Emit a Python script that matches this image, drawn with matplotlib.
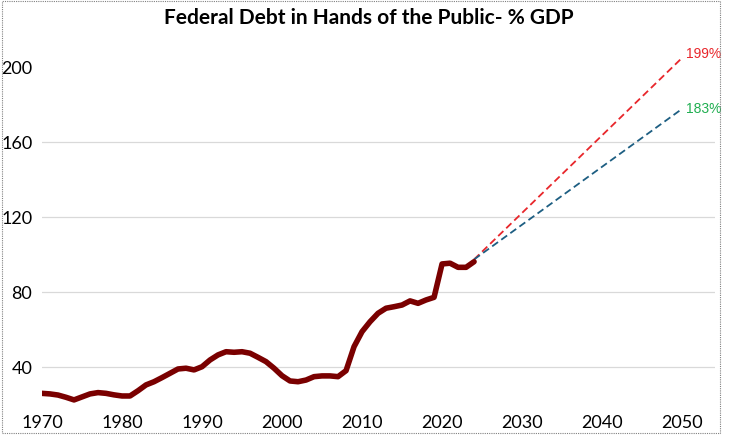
import matplotlib.pyplot as plt
from matplotlib.patches import Rectangle

# historical debt held by the public, % of GDP
years = list(range(1970, 2025))
debt = [26.1, 25.8, 25.2, 24.0, 22.6, 24.2, 25.8, 26.5, 26.1, 25.3,
        24.7, 24.7, 27.5, 30.6, 32.3, 34.5, 36.8, 39.1, 39.5, 38.6,
        40.3, 43.9, 46.6, 48.3, 48.0, 48.3, 47.5, 45.3, 43.0, 39.5,
        35.5, 32.7, 32.3, 33.2, 35.0, 35.4, 35.4, 35.0, 38.2, 51.0,
        59.0, 64.3, 68.8, 71.5, 72.3, 73.2, 75.4, 74.1, 75.9, 77.3,
        95.1, 95.5, 93.3, 93.3, 96.3]

# projections to 2050
proj_years = [2024, 2050]
proj_high = [97.5, 205.0]
proj_low = [97.5, 177.8]
proj_labels = ["199%", "183%"]

y_ticks = [40, 80, 120, 160, 200]
x_ticks = [1970, 1980, 1990, 2000, 2010, 2020, 2030, 2040, 2050]


def main():
    fig = plt.figure(figsize=(7.37, 4.37), dpi=100)
    ax = fig.add_axes([0.057, 0.0737, 0.913, 0.824])

    ax.plot(proj_years, proj_high, color="#e8262b", lw=1.3,
            dashes=(4, 2.2))
    ax.plot(proj_years, proj_low, color="#1d5e82", lw=1.3,
            dashes=(4, 2.2))
    ax.plot(years, debt, color="#7a0000", lw=4,
            solid_joinstyle="round", solid_capstyle="round")

    ax.annotate(proj_labels[0], (proj_years[1], proj_high[1]),
                xytext=(3, 3), textcoords="offset points",
                ha="left", va="center", color="#e8262b", fontsize=10,
                family="Liberation Sans")
    ax.annotate(proj_labels[1], (proj_years[1], proj_low[1]),
                xytext=(3, 0), textcoords="offset points",
                ha="left", va="center", color="#1fae50", fontsize=10,
                family="Liberation Sans")

    ax.set_xlim(1970, 2054.1)
    ax.set_ylim(20, 212)
    ax.set_xticks(x_ticks)
    ax.set_yticks(y_ticks)
    for t in y_ticks[:-1]:
        ax.axhline(t, color="#d9d9d9", lw=0.9, zorder=0)

    for s in ax.spines.values():
        s.set_visible(False)
    ax.tick_params(length=0, labelsize=13, pad=7)
    for lab in ax.get_xticklabels() + ax.get_yticklabels():
        lab.set_family("Lato")

    fig.text(0.5, 0.958, "Federal Debt in Hands of the Public- % GDP",
             ha="center", va="center", fontsize=15, fontweight="bold",
             family="Lato")

    fig.patches.append(Rectangle((0.003, 0.009), 0.974, 0.989,
                                 transform=fig.transFigure, fill=False,
                                 ec="#808080", lw=0.8, ls=(0, (1, 1))))

    fig.savefig("out.png", dpi=100)


if __name__ == "__main__":
    main()
